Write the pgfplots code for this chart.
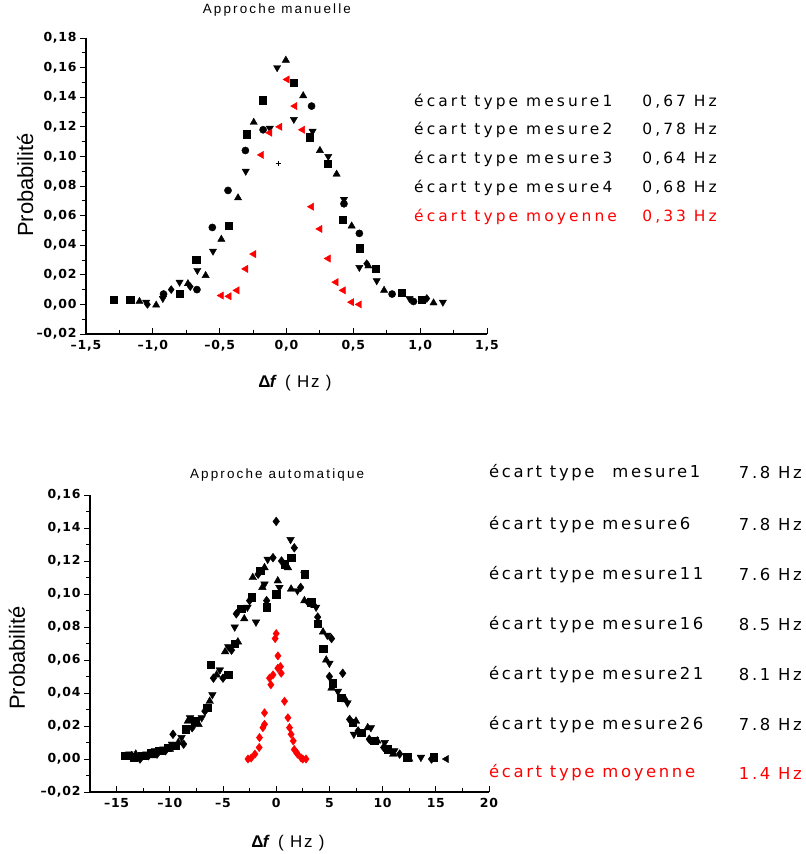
\documentclass[border=0pt]{standalone}
\usepackage{pgfplots}
\pgfplotsset{compat=1.18}
\usepackage{fontspec}
\setmainfont{Liberation Sans}
\newfontfamily\tickfont[LetterSpace=6]{DejaVu Sans Bold}
\newfontfamily\txtfont[LetterSpace=20]{DejaVu Sans}
\newfontfamily\txtfontb[LetterSpace=16]{DejaVu Sans}
\newfontfamily\titfont[LetterSpace=16]{Liberation Sans}
\newfontfamily\lblfont[LetterSpace=10]{Liberation Sans}
\definecolor{myred}{RGB}{255,0,0}
\pgfplotsset{
  common/.style={
    scale only axis,
    axis x line*=bottom, axis y line*=left,
    axis line style={line width=1.2pt},
    xtick align=inside, ytick align=outside,
    major tick length=6bp, minor tick length=4bp,
    every tick/.style={black, line width=1pt},
    minor x tick num=1, minor y tick num=1,
    tick label style={font=\tickfont\fontsize{12.5}{12.5}\selectfont},
    xticklabel style={yshift=-3bp},
    title style={font=\titfont\fontsize{13.5}{13.5}\selectfont, anchor=center},
    xlabel style={font=\lblfont\fontsize{17}{17}\selectfont, anchor=center},
    ylabel style={font=\fontsize{22}{22}\selectfont, anchor=center, rotate=0},
    clip=false,
  },
  blk/.style={only marks, mark size=3.6bp, black, mark options={fill=black, draw=black}},
}
\begin{document}
\begin{tikzpicture}
\useasboundingbox (0,0) rectangle (806bp,-854bp);
% ---------------- top chart ----------------
\begin{axis}[common,
  at={(86bp,-334bp)}, anchor=south west,
  width=401bp, height=296bp,
  xmin=-1.5, xmax=1.5, ymin=-0.02, ymax=0.18,
  xtick={-1.5,-1,-0.5,0,0.5,1,1.5},
  xticklabels={{–1,5},{–1,0},{–0,5},{0,0},{0,5},{1,0},{1,5}},
  ytick={-0.02,0,0.02,0.04,0.06,0.08,0.1,0.12,0.14,0.16,0.18},
  yticklabels={{–0,02},{0,00},{0,02},{0,04},{0,06},{0,08},{0,10},{0,12},{0,14},{0,16},{0,18}},
  title={Approche manuelle},
  title style={at={(axis description cs:0.476,1.074)}},
  xlabel={{\bfseries Δ\kern-0.5pt\textit{f}} ( Hz )},
  xlabel style={at={(axis description cs:0.521,-0.166)}},
  ylabel={Probabilité},
  ylabel style={at={(axis description cs:-0.152,0.503)}},
]
\addplot[blk, mark=square*] coordinates {
(-1.295,0.003) (-1.17,0.003) (-0.80,0.007) (-0.675,0.030) (-0.43,0.053) (-0.30,0.115)
(-0.18,0.138) (0.055,0.150) (0.175,0.113) (0.31,0.095) (0.42,0.057) (0.55,0.038)
(0.67,0.024) (0.86,0.008) (1.01,0.003)};
\addplot[blk, mark=*] coordinates {
(-0.92,0.007) (-0.67,0.010) (-0.555,0.052) (-0.4375,0.077) (-0.3075,0.104) (-0.175,0.118)
(0.1875,0.134) (0.43,0.068) (0.545,0.048) (0.79,0.007) (0.95,0.002)};
\addplot[blk, mark=triangle*, mark size=4.2bp] coordinates {
(-1.10,0.002) (-0.975,-0.0005) (-0.7375,0.014) (-0.605,0.0195) (-0.4875,0.044) (-0.3625,0.072)
(-0.245,0.123) (-0.005,0.165) (0.125,0.141) (0.25,0.104) (0.375,0.088) (0.4875,0.053)
(0.6125,0.026) (0.73,0.0095) (1.10,0.001)};
\addplot[blk, mark=triangle*, mark size=4.2bp, mark options={rotate=180}] coordinates {
(-1.05,0.0015) (-0.925,0.004) (-0.80,0.015) (-0.667,0.023) (-0.55,0.036) (-0.305,0.090)
(-0.125,0.119) (-0.07,0.160) (0.055,0.125) (0.195,0.117) (0.3125,0.100) (0.43,0.071)
(0.545,0.025) (0.675,0.016) (0.92,0.004) (1.17,0.0015)};
\addplot[blk, mark=diamond*, mark size=4bp] coordinates {
(-1.04,0.0) (-0.8625,0.010) (-0.72,0.012) (0.60,0.0275) (1.05,0.004)};
\addplot[blk, mark=+, mark size=2.5bp, line width=1.2pt] coordinates {(-0.0625,0.095)};
\addplot[only marks, mark=triangle*, mark size=4.2bp, myred, mark options={rotate=90, fill=myred, draw=myred}] coordinates {
(-0.4875,0.006) (-0.43,0.0055) (-0.37,0.0095) (-0.305,0.024) (-0.245,0.034) (-0.1875,0.101)
(-0.125,0.116) (-0.05,0.120) (0.005,0.152) (0.0625,0.134) (0.12,0.118) (0.1875,0.066)
(0.25,0.051) (0.3125,0.031) (0.37,0.015) (0.425,0.0095) (0.4875,0.0015) (0.545,0.000)};
\end{axis}
% ---------------- bottom chart ----------------
\begin{axis}[common,
  at={(90bp,-792bp)}, anchor=south west,
  width=399bp, height=297bp,
  xmin=-17.5, xmax=20, ymin=-0.02, ymax=0.16,
  xtick={-15,-10,-5,0,5,10,15,20},
  xticklabels={{–15},{–10},{–5},{0},{5},{10},{15},{20}},
  ytick={-0.02,0,0.02,0.04,0.06,0.08,0.1,0.12,0.14,0.16},
  yticklabels={{–0,02},{0,00},{0,02},{0,04},{0,06},{0,08},{0,10},{0,12},{0,14},{0,16}},
  title={Approche automatique},
  title style={at={(axis description cs:0.469,1.047)}},
  xlabel={{\bfseries Δ\kern-0.5pt\textit{f}} ( Hz )},
  xlabel style={at={(axis description cs:0.496,-0.172)}},
  ylabel={Probabilité},
  ylabel style={at={(axis description cs:-0.183,0.451)}},
]
\addplot[blk, mark=square*, mark size=3.7bp] coordinates {
(-14.2,0.002) (-13.4,0.001) (-12.6,0.002) (-11.8,0.004) (-11.0,0.005) (-10.2,0.007)
(-9.5,0.008) (-8.5,0.018) (-7.6,0.023) (-6.5,0.031) (-6.15,0.057) (-4.5,0.051)
(-3.9,0.070) (-3.3,0.091) (-2.3,0.098) (-1.5,0.114) (-0.9,0.092) (0,0.100)
(0.8,0.118) (1.4,0.122) (2.65,0.112) (3.3,0.095) (3.9,0.082) (4.4,0.067)
(5.3,0.046) (6.1,0.037) (7.2,0.022) (8.0,0.016) (9.2,0.011) (10.5,0.006)
(12.3,0.001) (14.8,0.001)};
\addplot[blk, mark=triangle*, mark size=4.4bp] coordinates {
(-14.0,0.001) (-13.2,0.003) (-12.4,0.001) (-11.6,0.002) (-10.8,0.004) (-10.0,0.006)
(-9.2,0.010) (-8.3,0.023) (-7.3,0.021) (-6.25,0.035) (-5.6,0.051) (-4.8,0.065)
(-3.6,0.071) (-3.0,0.085) (-2.2,0.110) (-1.1,0.116) (-1.3,0.104) (0.15,0.108)
(1.1,0.116) (1.4,0.103) (2.65,0.096) (3.6,0.093) (4.4,0.077) (4.7,0.060)
(5.2,0.043) (6.5,0.036) (7.5,0.023) (8.6,0.019) (9.5,0.011) (11.0,0.003)
(12.5,0.000)};
\addplot[blk, mark=triangle*, mark size=4.4bp, mark options={rotate=180}] coordinates {
(-13.8,0.003) (-13.0,0.002) (-12.2,0.003) (-11.4,0.005) (-10.6,0.006) (-9.8,0.009)
(-8.9,0.013) (-8.1,0.025) (-7.0,0.025) (-6.0,0.039) (-5.3,0.054) (-4.5,0.068)
(-3.9,0.080) (-2.7,0.092) (-1.9,0.083) (-1.1,0.106) (-0.8,0.121) (0.3,0.104)
(1.35,0.133) (2.0,0.102) (2.65,0.112) (3.75,0.092) (4.8,0.075) (5.0,0.058)
(5.8,0.041) (6.7,0.034) (7.3,0.015) (8.9,0.019) (10.2,0.010) (11.1,0.005)
(13.6,0.001)};
\addplot[blk, mark=diamond*, mark size=4.4bp] coordinates {
(-13.6,0.002) (-12.8,0.000) (-12.0,0.002) (-11.2,0.003) (-10.4,0.005) (-9.7,0.015)
(-8.7,0.009) (-7.9,0.019) (-6.7,0.029) (-5.9,0.049) (-5.0,0.049) (-4.2,0.066)
(-3.75,0.088) (-2.5,0.096) (-1.7,0.112) (-0.9,0.096) (-0.3,0.122) (0,0.144)
(0.5,0.120) (1.7,0.128) (2.3,0.104) (3.0,0.095) (3.9,0.086) (5.2,0.073)
(5.0,0.050) (6.25,0.052) (6.9,0.024) (7.7,0.017) (8.75,0.012) (10.1,0.007)
(11.6,0.003) (14.6,0.000)};
\addplot[blk, mark=triangle*, mark size=4.2bp, mark options={rotate=90}] coordinates {(16.0,0.000)};
\addplot[only marks, mark=diamond*, mark size=4.2bp, myred, mark options={fill=myred, draw=myred}] coordinates {
(0,0.076) (-0.1,0.073) (0.16,0.0625) (-0.63,0.049) (-0.5,0.045) (-0.3,0.051) (0.15,0.055)
(0.47,0.052) (0.4,0.056) (0.78,0.035) (-1.1,0.028) (-1.1,0.021) (-1.25,0.019) (-1.57,0.013)
(-1.6,0.007) (-2.0,0.003) (-2.35,0.0006) (-2.65,0.0) (1.1,0.025) (1.25,0.019) (1.4,0.015)
(1.6,0.011) (1.7,0.0057) (1.9,0.004) (2.0,0.003) (2.35,0.0006) (2.5,0.0) (2.8,0.0)};
\end{axis}
% ---------------- text blocks ----------------
\begin{scope}[every node/.style={inner sep=0pt, font=\txtfont\fontsize{15.5}{15.5}\selectfont}]
\node[anchor=west] at (414bp,-101.7bp) {écart type mesure1};
\node[anchor=east] at (717bp,-101.7bp) {0,67 Hz};
\node[anchor=west] at (414bp,-130bp) {écart type mesure2};
\node[anchor=east] at (717bp,-130bp) {0,78 Hz};
\node[anchor=west] at (414bp,-159bp) {écart type mesure3};
\node[anchor=east] at (717bp,-159bp) {0,64 Hz};
\node[anchor=west] at (414bp,-187.7bp) {écart type mesure4};
\node[anchor=east] at (717bp,-187.7bp) {0,68 Hz};
\node[anchor=west, text=myred] at (414bp,-216.7bp) {écart type moyenne};
\node[anchor=east, text=myred] at (717bp,-216.7bp) {0,33 Hz};
\end{scope}
\begin{scope}[every node/.style={inner sep=0pt, font=\txtfontb\fontsize{16.5}{16.5}\selectfont}]
\node[anchor=west] at (489bp,-473bp) {écart type\hspace{10bp} mesure1};
\node[anchor=east] at (802bp,-473bp) {7.8 Hz};
\node[anchor=west] at (489bp,-525bp) {écart type mesure6};
\node[anchor=east] at (802bp,-525bp) {7.8 Hz};
\node[anchor=west] at (489bp,-575bp) {écart type mesure11};
\node[anchor=east] at (802bp,-575bp) {7.6 Hz};
\node[anchor=west] at (489bp,-625bp) {écart type mesure16};
\node[anchor=east] at (802bp,-625bp) {8.5 Hz};
\node[anchor=west] at (489bp,-675bp) {écart type mesure21};
\node[anchor=east] at (802bp,-675bp) {8.1 Hz};
\node[anchor=west] at (489bp,-725bp) {écart type mesure26};
\node[anchor=east] at (802bp,-725bp) {7.8 Hz};
\node[anchor=west, text=myred] at (489bp,-773bp) {écart type moyenne};
\node[anchor=east, text=myred] at (802bp,-773bp) {1.4 Hz};
\end{scope}
\end{tikzpicture}
\end{document}
